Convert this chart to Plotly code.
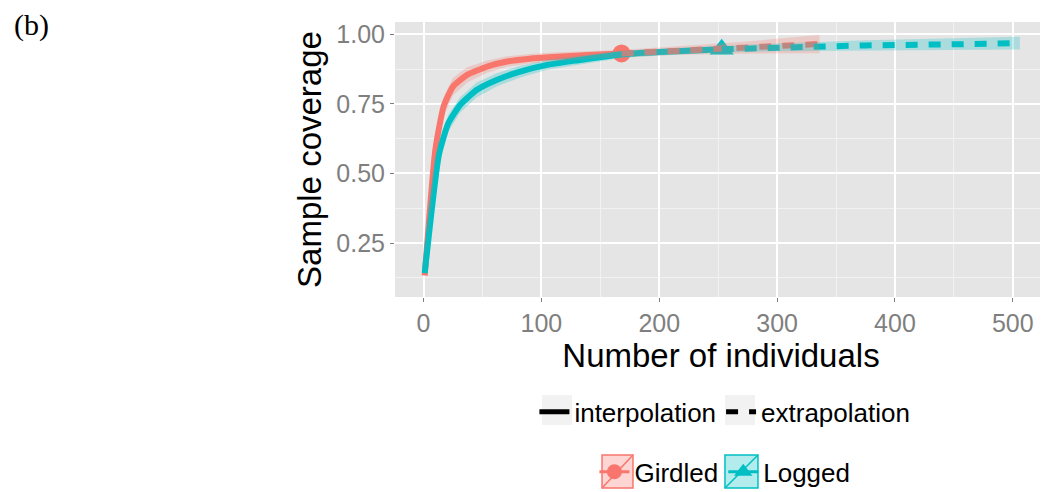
import plotly.graph_objects as go

# ---- data ----
g_int_n = [1, 10, 17, 25, 37, 54, 71, 90, 110, 140, 168]
g_int_cov = [0.133, 0.584, 0.740, 0.812, 0.854, 0.884, 0.902, 0.912, 0.918, 0.925, 0.931]
g_int_lo = [0.123, 0.549, 0.705, 0.780, 0.827, 0.862, 0.883, 0.895, 0.902, 0.911, 0.918]
g_int_hi = [0.143, 0.619, 0.775, 0.844, 0.881, 0.906, 0.921, 0.929, 0.934, 0.939, 0.944]

g_ext_n = [168, 210, 271, 311, 336]
g_ext_cov = [0.931, 0.940, 0.952, 0.960, 0.965]
g_ext_lo = [0.918, 0.925, 0.930, 0.932, 0.932]
g_ext_hi = [0.944, 0.955, 0.973, 0.988, 0.997]

l_int_n = [1, 13, 21, 31, 45, 62, 82, 105, 130, 156, 168, 200, 253]
l_int_cov = [0.142, 0.566, 0.680, 0.746, 0.800, 0.836, 0.866, 0.890, 0.906, 0.921, 0.928, 0.936, 0.946]
l_int_lo = [0.132, 0.536, 0.650, 0.718, 0.773, 0.812, 0.845, 0.872, 0.890, 0.907, 0.915, 0.924, 0.934]
l_int_hi = [0.152, 0.596, 0.710, 0.774, 0.827, 0.860, 0.887, 0.908, 0.922, 0.935, 0.941, 0.948, 0.958]

l_ext_n = [253, 300, 375, 453, 506]
l_ext_cov = [0.946, 0.953, 0.960, 0.964, 0.968]
l_ext_lo = [0.934, 0.939, 0.942, 0.944, 0.945]
l_ext_hi = [0.958, 0.967, 0.978, 0.985, 0.991]

g_obs = (168, 0.931)
l_obs = (253, 0.946)

x_ticks = [0, 100, 200, 300, 400, 500]
y_ticks = [0.25, 0.50, 0.75, 1.00]
y_tick_labels = ["0.25", "0.50", "0.75", "1.00"]

RED = "#F8766D"
TEAL = "#00BFC4"
FONT = "Liberation Sans, Arial, sans-serif"
DASH = "12px,11px"
LW = 6

fig = go.Figure()

# observed points
fig.add_trace(go.Scatter(x=[g_obs[0]], y=[g_obs[1]], mode="markers",
                         marker=dict(symbol="circle", size=18, color=RED),
                         showlegend=False, hoverinfo="skip"))
fig.add_trace(go.Scatter(x=[l_obs[0]], y=[l_obs[1]], mode="markers",
                         marker=dict(symbol="triangle-up", size=21, color=TEAL),
                         showlegend=False, hoverinfo="skip"))

# lines
fig.add_trace(go.Scatter(x=g_int_n, y=g_int_cov, mode="lines",
                         line=dict(color=RED, width=LW, shape="spline", smoothing=0.5),
                         showlegend=False))
fig.add_trace(go.Scatter(x=l_int_n, y=l_int_cov, mode="lines",
                         line=dict(color=TEAL, width=LW, shape="spline", smoothing=0.5),
                         showlegend=False))
fig.add_trace(go.Scatter(x=g_ext_n, y=g_ext_cov, mode="lines",
                         line=dict(color=RED, width=LW, dash=DASH), showlegend=False))
fig.add_trace(go.Scatter(x=l_ext_n, y=l_ext_cov, mode="lines",
                         line=dict(color=TEAL, width=LW, dash=DASH), showlegend=False))

# confidence bands (drawn on top with transparency, like ggplot ribbons)
def band(n_a, lo_a, hi_a, n_b, lo_b, hi_b, color):
    n = n_a + n_b[1:]
    lo = lo_a + lo_b[1:]
    hi = hi_a + hi_b[1:]
    xs = n + n[::-1]
    ys = hi + lo[::-1]
    return go.Scatter(x=xs, y=ys, mode="lines", fill="toself", fillcolor=color,
                      line=dict(width=0), showlegend=False, hoverinfo="skip")

fig.add_trace(band(g_int_n, g_int_lo, g_int_hi, g_ext_n, g_ext_lo, g_ext_hi,
                   "rgba(248,118,109,0.25)"))
fig.add_trace(band(l_int_n, l_int_lo, l_int_hi, l_ext_n, l_ext_lo, l_ext_hi,
                   "rgba(0,191,196,0.25)"))

# legend entries
fig.add_trace(go.Scatter(x=[None], y=[None], mode="lines", name="interpolation",
                         line=dict(color="black", width=5), legend="legend"))
fig.add_trace(go.Scatter(x=[None], y=[None], mode="lines", name="extrapolation",
                         line=dict(color="black", width=5, dash=DASH), legend="legend"))
fig.add_trace(go.Scatter(x=[None], y=[None], mode="lines+markers", name="Girdled",
                         line=dict(color=RED, width=3),
                         marker=dict(symbol="circle", size=15, color=RED),
                         legend="legend2"))
fig.add_trace(go.Scatter(x=[None], y=[None], mode="lines+markers", name="Logged",
                         line=dict(color=TEAL, width=3),
                         marker=dict(symbol="triangle-up", size=17, color=TEAL),
                         legend="legend2"))

# legend key backgrounds (paper coordinates)
shapes = []
for x0, x1 in [(0.2255, 0.2715), (0.5061, 0.5521)]:
    shapes.append(dict(type="rect", xref="paper", yref="paper", x0=x0, x1=x1,
                       y0=-0.4655, y1=-0.3564, fillcolor="#F2F2F2",
                       line=dict(width=0), layer="above"))
for (x0, x1), fc, lc in [((0.3175, 0.3650), "rgba(248,118,109,0.3)", RED),
                         ((0.5061, 0.5567), "rgba(0,191,196,0.3)", TEAL)]:
    shapes.append(dict(type="rect", xref="paper", yref="paper", x0=x0, x1=x1,
                       y0=-0.6945, y1=-0.5745, fillcolor=fc,
                       line=dict(width=1.5, color=lc), layer="above"))
    shapes.append(dict(type="line", xref="paper", yref="paper", x0=x0, x1=x1,
                       y0=-0.6945, y1=-0.5745,
                       line=dict(width=1.5, color=lc), layer="above"))

axis_common = dict(
    showgrid=True, gridcolor="white", gridwidth=1.5,
    zeroline=False, showline=False,
    ticks="outside", ticklen=4, tickwidth=1, tickcolor="#7F7F7F",
    tickfont=dict(family=FONT, size=25, color="#7F7F7F"),
    title_font=dict(family=FONT, size=33, color="black"),
)

fig.update_layout(
    width=1040, height=484,
    margin=dict(l=387, r=1, t=14, b=195, autoexpand=False),
    paper_bgcolor="white", plot_bgcolor="#E5E5E5",
    font=dict(family=FONT, color="black"),
    xaxis=dict(range=[-24.2, 529], tickvals=x_ticks,
               title=dict(text="Number of individuals", standoff=2),
               minor=dict(dtick=50, tick0=0, showgrid=True, gridcolor="#F2F2F2",
                          gridwidth=0.8, ticks=""),
               **axis_common),
    yaxis=dict(range=[0.056, 1.044], tickvals=y_ticks, ticktext=y_tick_labels,
               title=dict(text="Sample coverage", standoff=4),
               minor=dict(dtick=0.125, tick0=0, showgrid=True, gridcolor="#F2F2F2",
                          gridwidth=0.8, ticks=""),
               **axis_common),
    legend=dict(orientation="h", x=0.506, xanchor="center", y=-0.418, yanchor="middle",
                font=dict(family=FONT, size=26, color="black"),
                bgcolor="rgba(0,0,0,0)", itemwidth=30),
    legend2=dict(orientation="h", x=0.506, xanchor="center", y=-0.636, yanchor="middle",
                 font=dict(family=FONT, size=26, color="black"),
                 bgcolor="rgba(0,0,0,0)", itemwidth=30),
    shapes=shapes,
    annotations=[dict(text="(b)", xref="paper", yref="paper", x=-0.5874, y=0.989,
                      xanchor="left", yanchor="middle", showarrow=False,
                      font=dict(family="Liberation Serif, Times New Roman, serif",
                                size=30, color="black"))],
)

fig.write_html("out.html")
